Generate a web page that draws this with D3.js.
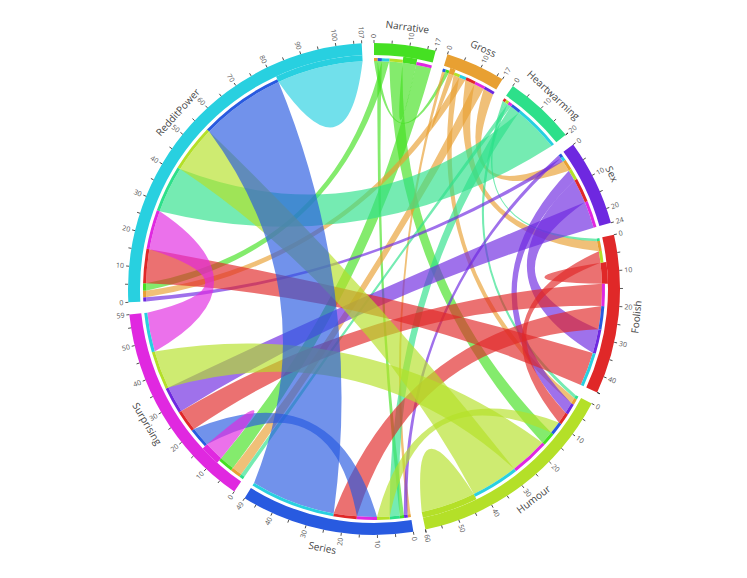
<!DOCTYPE html>
<html lang="en">
<head>
<meta charset="utf-8">
<title>Chord</title>
<script src="https://cdn.jsdelivr.net/npm/d3@7"></script>
<style>
  body { margin: 0; background: #fff; }
  svg { font-family: "Open Sans", "DejaVu Sans", sans-serif; }
</style>
</head>
<body>
<script>
// groups, clockwise from the top
var names = ["Narrative", "Gross", "Heartwarming", "Sex", "Foolish", "Humour", "Series", "Surprising", "RedditPower"];
var colors = ["#45e022", "#e8a032", "#2de08a", "#6e28e0", "#e02828", "#b4e028", "#285ae0", "#e028e0", "#28d0e0"];

// symmetric matrix (row/col order = names)
var matrix = [
  //  Nar   Gro   Hea   Sex   Foo   Hum   Ser   Sur   Red
  [ 4.1,  1.1,  0,    0,    0,    4.0,  1.25, 4.6,  2.2 ],
  [ 1.1,  1.6,  0,    3.25, 3.0,  1.8,  0.9,  3.1,  2.0 ],
  [ 0,    0,    0,    0,    0.8,  1.0,  3.0,  1.2,  14.0],
  [ 0,    3.25, 0,    0,    7.3,  3.3,  1.1,  8.0,  1.2 ],
  [ 0,    3.0,  0.8,  7.3,  6.3,  3.5,  7.0,  6.6,  10.2],
  [ 4.0,  1.8,  1.0,  3.3,  3.5,  16.5, 3.8,  11.5, 14.2],
  [ 1.25, 0.9,  3.0,  1.1,  7.0,  3.8,  0,    6.0,  25.6],
  [ 4.6,  3.1,  1.2,  8.0,  6.6,  11.5, 6.0,  5.9,  11.8],
  [ 2.2,  2.0,  14.0, 1.2,  10.2, 14.2, 25.6, 11.8, 26.0]
];

var width = 747, height = 578;
var cx = 374, cy = 289;
var outerRadius = 246, innerRadius = 234;
var chordRadius = 228, stripRadius = 231;

var svg = d3.select("body").append("svg")
    .attr("width", width)
    .attr("height", height)
    .append("g")
    .attr("transform", "translate(" + cx + "," + cy + ")");

var chords = d3.chord()
    .padAngle(0.05)
    .sortSubgroups(d3.ascending)(matrix);

function pt(a, r) { return [r * Math.sin(a), -r * Math.cos(a)]; }

// bezier control pulled toward the centre more for far-apart ends
function ctrl(a0, a1, p0, p1) {
  var c = 0.5 * Math.abs(Math.cos((a1 - a0) / 2));
  return [c * (p0[0] + p1[0]) / 2, c * (p0[1] + p1[1]) / 2];
}

function ribbon(d) {
  var r = chordRadius, s = d.source, t = d.target;
  var s0 = pt(s.startAngle, r), s1 = pt(s.endAngle, r);
  var t0 = pt(t.startAngle, r), t1 = pt(t.endAngle, r);
  var c1 = ctrl(s.endAngle, t.startAngle, s1, t0);
  var c2 = ctrl(t.endAngle, s.startAngle, t1, s0);
  var p = d3.path();
  p.moveTo(s0[0], s0[1]);
  p.arc(0, 0, r, s.startAngle - Math.PI / 2, s.endAngle - Math.PI / 2);
  p.quadraticCurveTo(c1[0], c1[1], t0[0], t0[1]);
  p.arc(0, 0, r, t.startAngle - Math.PI / 2, t.endAngle - Math.PI / 2);
  p.quadraticCurveTo(c2[0], c2[1], s0[0], s0[1]);
  p.closePath();
  return p.toString();
}

// chords
svg.append("g").selectAll("path")
    .data(chords)
    .enter()
    .append("path")
    .attr("d", ribbon)
    .style("fill", function (d) { return colors[Math.min(d.source.index, d.target.index)]; })
    .style("fill-opacity", 0.66);

// coloured strip at each chord end, in the colour of the other group
var ends = [];
chords.forEach(function (d) {
  if (d.source.index === d.target.index) {
    ends.push({sub: d.source, other: d.source.index, self: true});
  } else {
    ends.push({sub: d.source, other: d.target.index, self: false});
    ends.push({sub: d.target, other: d.source.index, self: false});
  }
});

var stripArc = d3.arc();
svg.append("g").selectAll("path")
    .data(ends)
    .enter()
    .append("path")
    .attr("d", function (d) {
      return stripArc({
        innerRadius: chordRadius,
        outerRadius: d.self ? innerRadius : stripRadius,
        startAngle: d.sub.startAngle,
        endAngle: d.sub.endAngle
      });
    })
    .style("fill", function (d) { return colors[d.other]; });

// group arcs
var groupArc = d3.arc().innerRadius(innerRadius).outerRadius(outerRadius);
var group = svg.append("g").selectAll("g")
    .data(chords.groups)
    .enter()
    .append("g");

group.append("path")
    .attr("d", groupArc)
    .style("fill", function (d) { return colors[d.index]; });

// group names
group.append("text")
    .attr("transform", function (d) {
      var a = (d.startAngle + d.endAngle) / 2;
      var p = pt(a, 264);
      var deg = a * 180 / Math.PI;
      if (deg > 90 && deg < 270) deg -= 180;
      return "translate(" + p[0] + "," + p[1] + ") rotate(" + deg + ")";
    })
    .attr("text-anchor", "middle")
    .attr("dy", "0.35em")
    .style("font-size", "10px")
    .style("fill", "#444")
    .text(function (d) { return names[d.index]; });

// ticks
function groupTicks(d) {
  var k = (d.endAngle - d.startAngle) / d.value;
  var ticks = d3.range(0, d.value + 0.5, 5).map(function (v) {
    return {angle: Math.min(d.startAngle + v * k, d.endAngle), label: v % 10 === 0 ? v : ""};
  });
  var tot = Math.round(d.value);
  ticks.push({angle: d.endAngle, label: tot % 5 ? tot : ""});
  return ticks;
}

var tick = group.selectAll(".tick")
    .data(groupTicks)
    .enter()
    .append("g")
    .attr("class", "tick")
    .attr("transform", function (d) {
      return "rotate(" + (d.angle * 180 / Math.PI - 90) + ") translate(" + outerRadius + ",0)";
    });

tick.append("line")
    .attr("x2", 3)
    .style("stroke", "#333")
    .style("stroke-width", 0.8);

tick.append("text")
    .attr("x", 5)
    .attr("dy", "0.35em")
    .attr("transform", function (d) { return d.angle > Math.PI ? "rotate(180) translate(-10)" : null; })
    .attr("text-anchor", function (d) { return d.angle > Math.PI ? "end" : null; })
    .style("font-size", "7px")
    .style("fill", "#555")
    .text(function (d) { return d.label; });
</script>
</body>
</html>
